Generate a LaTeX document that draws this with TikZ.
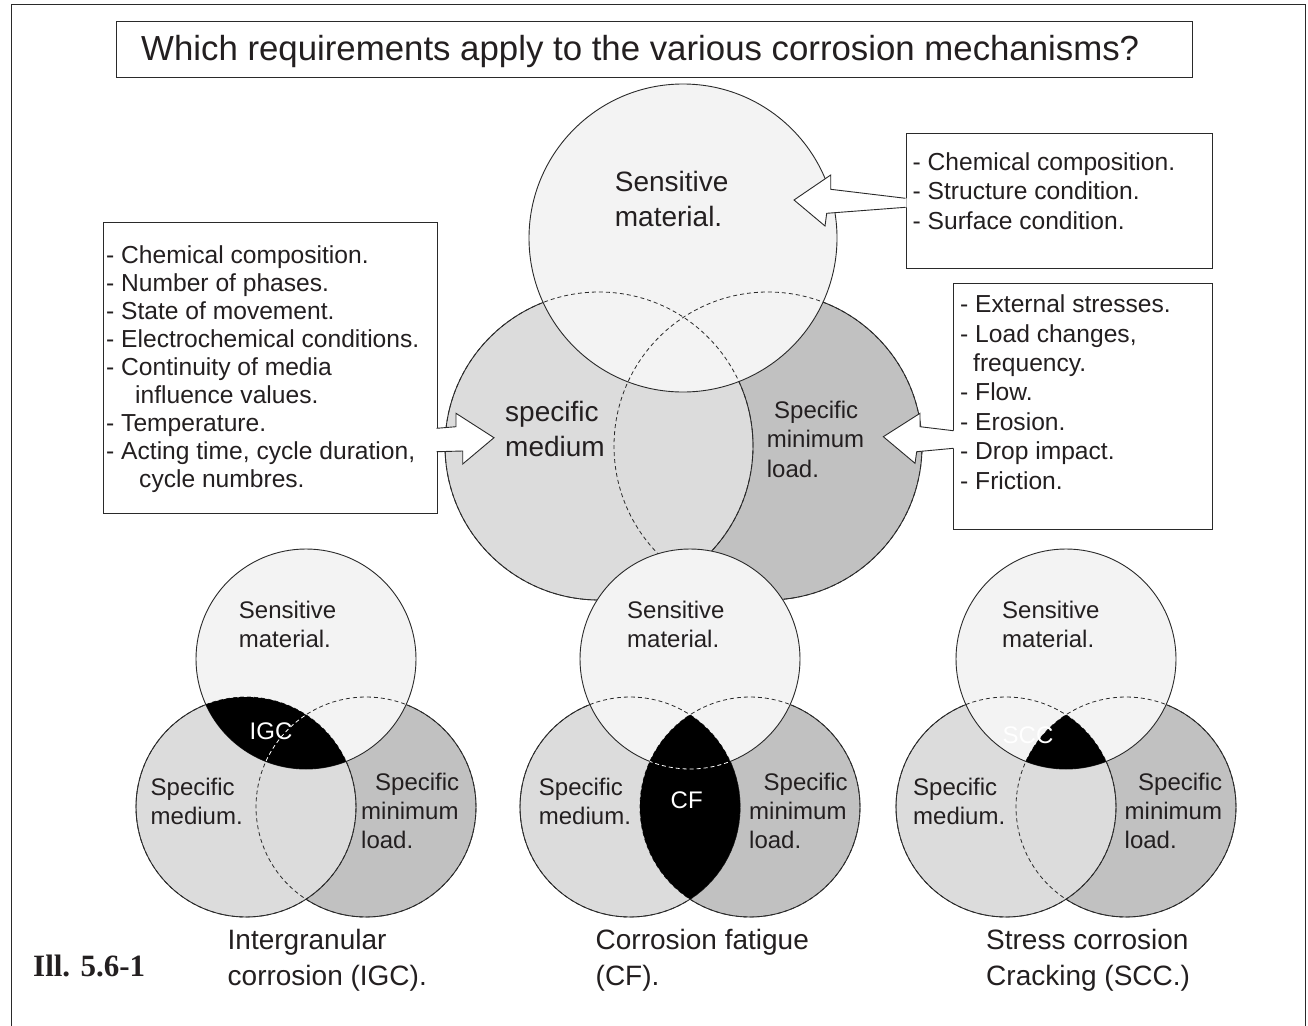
\documentclass[tikz,border=0pt]{standalone}
\usepackage{fontspec}
\setmainfont{Liberation Sans}
\newfontfamily\illfont{Liberation Serif}
\definecolor{txt}{HTML}{231F20}
\definecolor{lineclr}{HTML}{2A2A2A}
\definecolor{matfill}{HTML}{F3F3F3}
\definecolor{medfill}{HTML}{DCDCDC}
\definecolor{loadfill}{HTML}{C1C1C1}
\tikzset{
  solidline/.style={draw=lineclr, line width=0.9pt},
  hidden/.style={draw=lineclr, line width=0.8pt, dash pattern=on 4pt off 3pt},
  whidden/.style={draw=white, line width=0.8pt, dash pattern=on 4pt off 3pt},
  lbl/.style={font=\fontsize{24pt}{29pt}\selectfont, text=txt, inner sep=0pt, anchor=base west},
  boxlbl/.style={font=\fontsize{24.6pt}{29pt}\selectfont, text=txt, inner sep=0pt, anchor=base west},
  biglbl/.style={font=\fontsize{28pt}{35pt}\selectfont, text=txt, inner sep=0pt, anchor=base west},
  wlbl/.style={font=\fontsize{24pt}{29pt}\selectfont, text=white, inner sep=0pt, anchor=base},
  boxst/.style={draw=lineclr, line width=1pt, fill=white, inner sep=0pt, anchor=north west},
  calloutline/.style={draw=lineclr, line width=0.9pt, line join=miter},
}
\begin{document}
\begin{tikzpicture}[x=1pt,y=-1pt]
\useasboundingbox (0,0) rectangle (1308,1025);
\fill[white] (0,0) rectangle (1308,1025);
% outer frame
\coordinate (fa) at (11.7,1030);
\coordinate (fb) at (11.7,5);
\coordinate (fc) at (1305,5);
\coordinate (fd) at (1305,1030);
\draw[lineclr, line width=1pt] (fa) -- (fb) -- (fc) -- (fd);

% title
\node[boxst, minimum width=1076.3pt, minimum height=56.6pt] (titlebox) at (116,20.7) {};
\node[lbl, font=\fontsize{34.8pt}{40pt}\selectfont] (titletxt) at (141,60.7) {Which requirements apply to the various corrosion mechanisms?};

% ===== big Venn diagram =====
\coordinate (bS) at (683,238);
\coordinate (bM) at (599,446);
\coordinate (bL) at (768,446);
\filldraw[solidline, fill=loadfill] (bL) circle[radius=154pt];
\filldraw[solidline, fill=medfill] (bM) circle[radius=154pt];
\filldraw[solidline, fill=matfill] (bS) circle[radius=154pt];
\draw[hidden] (bL) circle[radius=154pt];
\draw[hidden] (bM) circle[radius=154pt];

% boxes
\node[boxst, minimum width=333.4pt, minimum height=291.6pt] (medbox) at (103.3,221.7) {};
\node[boxst, minimum width=306.2pt, minimum height=135pt] (matbox) at (905.5,133.3) {};
\node[boxst, minimum width=258.4pt, minimum height=246.3pt] (loadbox) at (953.3,282.7) {};

% left callout arrow (medium)
\coordinate (la1) at (436.7,428.3);
\coordinate (la2) at (456,426.7);
\coordinate (la3) at (456,413.3);
\coordinate (la4) at (494,437.7);
\coordinate (la5) at (462.7,464);
\coordinate (la6) at (462.7,451);
\coordinate (la7) at (436.7,451.7);
\fill[white] ([xshift=-1pt]la1) -- (la2) -- (la3) -- (la4) -- (la5) -- (la6) -- ([xshift=-1pt]la7) -- cycle;
\draw[calloutline] (la1) -- (la2) -- (la3) -- (la4) -- (la5) -- (la6) -- (la7);

% top-right callout arrow (material)
\coordinate (ta1) at (905.5,198.3);
\coordinate (ta2) at (830.7,189.3);
\coordinate (ta3) at (830.7,175);
\coordinate (ta4) at (794,200);
\coordinate (ta5) at (825,226);
\coordinate (ta6) at (826.7,213.3);
\coordinate (ta7) at (905.5,207.3);
\fill[white] ([xshift=1pt]ta1) -- (ta2) -- (ta3) -- (ta4) -- (ta5) -- (ta6) -- ([xshift=1pt]ta7) -- cycle;
\draw[calloutline] (ta1) -- (ta2) -- (ta3) -- (ta4) -- (ta5) -- (ta6) -- (ta7);

% right callout arrow (load)
\coordinate (ra1) at (953.3,430.7);
\coordinate (ra2) at (920,426.7);
\coordinate (ra3) at (920,413.3);
\coordinate (ra4) at (883.3,436.7);
\coordinate (ra5) at (915,463.3);
\coordinate (ra6) at (916.7,451.7);
\coordinate (ra7) at (953.3,448.3);
\fill[white] ([xshift=1pt]ra1) -- (ra2) -- (ra3) -- (ra4) -- (ra5) -- (ra6) -- ([xshift=1pt]ra7) -- cycle;
\draw[calloutline] (ra1) -- (ra2) -- (ra3) -- (ra4) -- (ra5) -- (ra6) -- (ra7);

% box texts
\node[boxlbl] (m1) at (106,263) {- Chemical composition.};
\node[boxlbl] (m2) at (106,291.1) {- Number of phases.};
\node[boxlbl] (m3) at (106,319.2) {- State of movement.};
\node[boxlbl] (m4) at (106,347.3) {- Electrochemical conditions.};
\node[boxlbl] (m5) at (106,375.4) {- Continuity of media};
\node[boxlbl] (m6) at (135,403.5) {influence values.};
\node[boxlbl] (m7) at (106,431.6) {- Temperature.};
\node[boxlbl] (m8) at (106,459.7) {- Acting time, cycle duration,};
\node[boxlbl] (m9) at (139,487.8) {cycle numbres.};

\node[boxlbl] (s1) at (912.5,170.7) {- Chemical composition.};
\node[boxlbl] (s2) at (912.5,199.9) {- Structure condition.};
\node[boxlbl] (s3) at (912.5,229.1) {- Surface condition.};

\node[boxlbl] (l1) at (960,312.7) {- External stresses.};
\node[boxlbl] (l2) at (960,342.1) {- Load changes,};
\node[boxlbl] (l3) at (973,371.5) {frequency.};
\node[boxlbl] (l4) at (960,400.9) {- Flow.};
\node[boxlbl] (l5) at (960,430.3) {- Erosion.};
\node[boxlbl] (l6) at (960,459.7) {- Drop impact.};
\node[boxlbl] (l7) at (960,489.1) {- Friction.};

% big labels
\node[biglbl] (bs1) at (614.7,191.7) {Sensitive};
\node[biglbl] (bs2) at (614.7,226.7) {material.};
\node[biglbl] (bm1) at (505,421.7) {specific};
\node[biglbl] (bm2) at (505,456.7) {medium};
\node[lbl] (bl1) at (774,418) {Specific};
\node[lbl] (bl2) at (766.7,447.5) {minimum};
\node[lbl] (bl3) at (766.7,477) {load.};

% ===== IGC =====
\coordinate (iS) at (306,659);
\coordinate (iM) at (246,807);
\coordinate (iL) at (366,807);
\filldraw[solidline, fill=loadfill] (iL) circle[radius=110pt];
\filldraw[solidline, fill=medfill] (iM) circle[radius=110pt];
\filldraw[solidline, fill=matfill] (iS) circle[radius=110pt];
\draw[hidden] (iL) circle[radius=110pt];
\draw[hidden] (iM) circle[radius=110pt];
\begin{scope}
  \clip (iS) circle[radius=110pt];
  \fill[black] (iM) circle[radius=110pt];
  \clip (iM) circle[radius=110pt];
  \draw[whidden] (iL) circle[radius=110pt];
\end{scope}
\node[lbl] (is1) at (238.7,618) {Sensitive};
\node[lbl] (is2) at (238.7,647) {material.};
\node[lbl] (im1) at (150.5,795) {Specific};
\node[lbl] (im2) at (150.5,824.5) {medium.};
\node[lbl] (il1) at (375,790) {Specific};
\node[lbl] (il2) at (361,819.3) {minimum};
\node[lbl] (il3) at (361,848) {load.};
\node[wlbl] (igc) at (271,739) {IGC};
\node[biglbl] (ic1) at (227.5,949) {Intergranular};
\node[biglbl] (ic2) at (227.5,985) {corrosion (IGC).};

% ===== CF =====
\coordinate (cS) at (690,659);
\coordinate (cM) at (630,807);
\coordinate (cL) at (750,807);
\filldraw[solidline, fill=loadfill] (cL) circle[radius=110pt];
\filldraw[solidline, fill=medfill] (cM) circle[radius=110pt];
\filldraw[solidline, fill=matfill] (cS) circle[radius=110pt];
\draw[hidden] (cL) circle[radius=110pt];
\draw[hidden] (cM) circle[radius=110pt];
\begin{scope}
  \clip (cM) circle[radius=110pt];
  \fill[black] (cL) circle[radius=110pt];
  \clip (cL) circle[radius=110pt];
  \draw[whidden] (cS) circle[radius=110pt];
\end{scope}
\node[lbl] (cs1) at (627,618) {Sensitive};
\node[lbl] (cs2) at (627,647) {material.};
\node[lbl] (cm1) at (538.7,795) {Specific};
\node[lbl] (cm2) at (538.7,824.5) {medium.};
\node[lbl] (cl1) at (763.5,790) {Specific};
\node[lbl] (cl2) at (749,819.3) {minimum};
\node[lbl] (cl3) at (749,848) {load.};
\node[wlbl] (cf) at (686.7,808) {CF};
\node[biglbl] (cc1) at (595.5,949) {Corrosion fatigue};
\node[biglbl] (cc2) at (595.5,985) {(CF).};

% ===== SCC =====
\coordinate (sS) at (1066,659);
\coordinate (sM) at (1006,807);
\coordinate (sL) at (1126,807);
\filldraw[solidline, fill=loadfill] (sL) circle[radius=110pt];
\filldraw[solidline, fill=medfill] (sM) circle[radius=110pt];
\filldraw[solidline, fill=matfill] (sS) circle[radius=110pt];
\draw[hidden] (sL) circle[radius=110pt];
\draw[hidden] (sM) circle[radius=110pt];
\begin{scope}
  \clip (sS) circle[radius=110pt];
  \clip (sM) circle[radius=110pt];
  \fill[black] (sL) circle[radius=110pt];
\end{scope}
\node[lbl] (ss1) at (1002,618) {Sensitive};
\node[lbl] (ss2) at (1002,647) {material.};
\node[lbl] (sm1) at (913,795) {Specific};
\node[lbl] (sm2) at (913,824.5) {medium.};
\node[lbl] (sl1) at (1138,790) {Specific};
\node[lbl] (sl2) at (1124.5,819.3) {minimum};
\node[lbl] (sl3) at (1124.5,848) {load.};
\node[lbl, text=white] (scc) at (1002.5,743) {SCC};
\node[biglbl] (sc1) at (986,949) {Stress corrosion};
\node[biglbl] (sc2) at (986,985) {Cracking (SCC.)};

% figure number
\node[inner sep=0pt, anchor=base west, text=txt, font=\illfont\bfseries\fontsize{31pt}{36pt}\selectfont] (ill) at (33,976) {Ill. 5.6-1};
\end{tikzpicture}
\end{document}
